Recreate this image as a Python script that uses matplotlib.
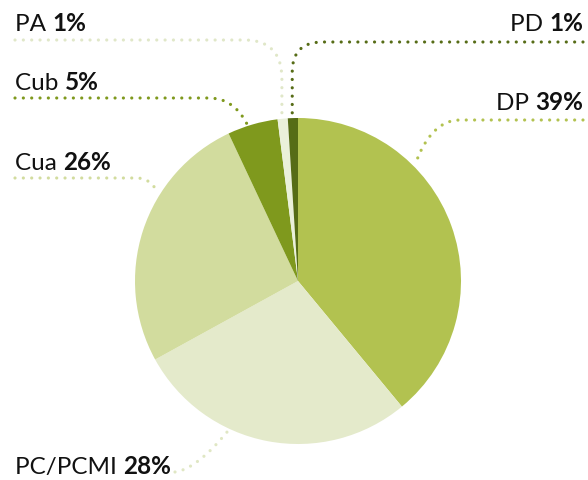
import numpy as np
import matplotlib
matplotlib.use("Agg")
from matplotlib import pyplot as plt
from matplotlib.path import Path
from matplotlib.patches import PathPatch

# data, clockwise from the top
names = ["DP", "PC/PCMI", "Cua", "Cub", "PA", "PD"]
shares = [39, 28, 26, 5, 1, 1]
colors = ["#b2c250", "#e4eacb", "#d2dc9e", "#7f991d", "#eaf0da", "#566c16"]
line_colors = ["#b2c250", "#e0e7c4", "#d2dc9e", "#7f991d", "#e0e7c8", "#566c16"]

# label layout (pixels, y measured from the top)
label_side = ["right", "left", "left", "left", "left", "right"]
label_y = [110, 474, 170, 90, 31, 31]
line_y = [120, None, 178, 98, 40, 42]
anchor_angle = [44.8, 245.0, 147.8, 108.0, 95.6, 92.0]
corner = [45, None, 22, 38, 38, 30]

W, H = 588, 480
cx, cy, R = 298, H - 281, 163

fig = plt.figure(figsize=(W / 100, H / 100), dpi=100)
ax = fig.add_axes([0, 0, 1, 1])
ax.pie(shares, colors=colors, startangle=90, counterclock=False,
       center=(cx, cy), radius=R, wedgeprops=dict(linewidth=0))
ax.set_xlim(0, W)
ax.set_ylim(0, H)
ax.set_aspect("equal")
ax.axis("off")

font = "Lato"
fs = 17.5
renderer = fig.canvas.get_renderer()


def leader(points, codes, color):
    p = PathPatch(Path(points, codes), fill=False, edgecolor=color, lw=2.3,
                  linestyle=(0, (0.01, 2.6)), capstyle="round")
    ax.add_patch(p)


def corner_leader(x0, yl, ex, ey, r, color):
    # horizontal run, rounded corner, then straight down to the slice
    s = 1 if ex > x0 else -1
    drop = yl - ey
    if drop > r + 5:
        pts = [(x0, yl), (ex - s * r, yl), (ex, yl), (ex, yl - r), (ex, ey)]
        codes = [Path.MOVETO, Path.LINETO, Path.CURVE3, Path.CURVE3, Path.LINETO]
    else:
        pts = [(x0, yl), (ex - s * r, yl), (ex - s * r * 0.35, yl), (ex, ey)]
        codes = [Path.MOVETO, Path.LINETO, Path.CURVE3, Path.CURVE3]
    leader(pts, codes, color)


for name, pct, side, ty, ly, ang, lc, r in zip(names, shares, label_side, label_y,
                                               line_y, anchor_angle, line_colors, corner):
    a = np.radians(ang)
    ex, ey = cx + (R + 2) * np.cos(a), cy + (R + 2) * np.sin(a)
    yb = H - ty
    if side == "left":
        t1 = ax.text(15, yb, name + " ", fontsize=fs, family=font, ha="left",
                     va="baseline", color="#111111")
        bb = t1.get_window_extent(renderer)
        t2 = ax.text(bb.x1, yb, f"{pct}%", fontsize=fs, family=font,
                     fontweight="bold", ha="left", va="baseline", color="#111111")
        if ly is not None:
            corner_leader(15, H - ly, ex, ey, r, lc)
        else:
            x0 = t2.get_window_extent(renderer).x1 + 4
            y0 = yb + 2
            pts = [(x0, y0), (x0 + 22, y0 + 3), (ex, ey)]
            leader(pts, [Path.MOVETO, Path.CURVE3, Path.CURVE3], lc)
    else:
        t2 = ax.text(583, yb, f"{pct}%", fontsize=fs, family=font,
                     fontweight="bold", ha="right", va="baseline", color="#111111")
        bb = t2.get_window_extent(renderer)
        ax.text(bb.x0, yb, name + " ", fontsize=fs, family=font, ha="right",
                va="baseline", color="#111111")
        corner_leader(583, H - ly, ex, ey, r, lc)

fig.savefig("out.png", dpi=100)
